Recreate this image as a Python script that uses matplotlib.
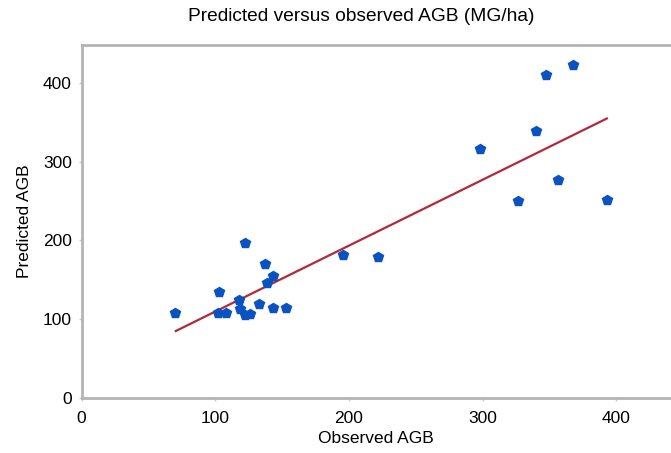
import matplotlib
matplotlib.use("Agg")
import matplotlib.pyplot as plt

plt.rcParams['font.family'] = ['Liberation Sans', 'DejaVu Sans']

observed = [69.9, 102.3, 108.0, 103.0, 122.2, 118.0, 118.5, 122.2, 126.0, 132.9,
            137.2, 138.5, 143.0, 143.0, 152.7, 195.3, 221.5, 298.0, 340.3, 347.3,
            367.7, 356.5, 326.9, 392.9]
predicted = [107.6, 107.6, 107.6, 134.2, 196.4, 124.4, 113.0, 105.4, 106.3, 119.4,
             169.8, 145.7, 155.0, 114.0, 114.0, 181.6, 179.4, 316.6, 339.4, 410.0,
             422.5, 276.8, 249.8, 251.0]
fit_x = [70.5, 393.0]
fit_y = [85.0, 354.7]
xticks = [0, 100, 200, 300, 400]
yticks = [0, 100, 200, 300, 400]

fig = plt.figure(figsize=(6.71, 4.53), dpi=100)
ax = fig.add_axes([0.1215, 0.1214, 0.8785, 0.7793])

ax.plot(fit_x, fit_y, color='#b3293a', linewidth=1.6, zorder=2)
ax.plot(observed, predicted, linestyle='none', marker='p', markersize=7,
        color='#0a52c2', markeredgecolor='#0a52c2', zorder=3)

ax.set_xlim(0, 441)
ax.set_ylim(0, 448)
ax.set_xticks(xticks)
ax.set_yticks(yticks)
ax.tick_params(axis='both', labelsize=12.5, length=2, width=1, color='#c8c8c8')
ax.tick_params(axis='x', pad=7)
ax.tick_params(axis='y', pad=5)

for side in ['left', 'bottom', 'top']:
    ax.spines[side].set_color('#b4b4b4')
    ax.spines[side].set_linewidth(2)
ax.spines['right'].set_visible(False)

ax.set_xlabel('Observed AGB', fontsize=12.5, labelpad=4)
ax.set_ylabel('Predicted AGB', fontsize=12.5, labelpad=8)
fig.text(0.539, 0.963, 'Predicted versus observed AGB (MG/ha)', ha='center', va='center', fontsize=13.8)

fig.savefig('out.png', dpi=100)
